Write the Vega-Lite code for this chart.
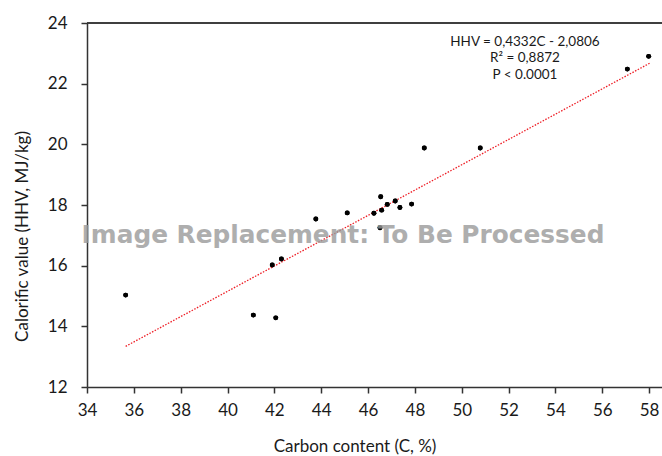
{
  "$schema": "https://vega.github.io/schema/vega-lite/v6.json",
  "width": 575,
  "height": 364,
  "autosize": {"type": "none"},
  "padding": {"left": 87, "top": 23, "right": 0, "bottom": 69},
  "background": "white",
  "config": {
    "view": {"stroke": null},
    "font": "Lato",
    "axis": {
      "grid": false,
      "domainColor": "#333333",
      "domainWidth": 1.5,
      "tickColor": "#333333",
      "tickWidth": 1.5,
      "tickSize": 6,
      "labelFont": "Lato",
      "labelFontSize": 17,
      "labelColor": "#1a1a1a",
      "titleFont": "Lato",
      "titleFontSize": 17,
      "titleFontWeight": "normal",
      "titleColor": "#1a1a1a"
    }
  },
  "datasets": {
    "points": [
      {"x": 35.65, "y": 15.03},
      {"x": 41.10, "y": 14.37},
      {"x": 42.06, "y": 14.28},
      {"x": 41.91, "y": 16.02},
      {"x": 42.30, "y": 16.22},
      {"x": 43.77, "y": 17.54},
      {"x": 45.11, "y": 17.74},
      {"x": 46.25, "y": 17.73},
      {"x": 46.54, "y": 18.27},
      {"x": 46.58, "y": 17.83},
      {"x": 46.82, "y": 18.02},
      {"x": 47.16, "y": 18.13},
      {"x": 47.36, "y": 17.92},
      {"x": 47.86, "y": 18.03},
      {"x": 46.51, "y": 17.25},
      {"x": 48.40, "y": 19.88},
      {"x": 50.79, "y": 19.88},
      {"x": 57.07, "y": 22.48},
      {"x": 57.98, "y": 22.90}
    ],
    "fit": [
      {"x": 35.65, "y": 13.34},
      {"x": 58.04, "y": 22.68}
    ],
    "notes": [
      {"x": 52.70, "y": 23.36, "label": "HHV = 0,4332C - 2,0806"},
      {"x": 52.70, "y": 22.83, "label": "R² = 0,8872"},
      {"x": 52.70, "y": 22.30, "label": "P < 0.0001"}
    ],
    "stamp": [
      {"x": 44.93, "y": 16.98, "label": "Image Replacement: To Be Processed"}
    ]
  },
  "layer": [
    {
      "data": {"name": "points"},
      "mark": {"type": "circle", "size": 24, "color": "#000000", "opacity": 1},
      "encoding": {
        "x": {
          "field": "x",
          "type": "quantitative",
          "scale": {"domain": [34, 58.55], "nice": false, "zero": false},
          "axis": {
            "values": [34, 36, 38, 40, 42, 44, 46, 48, 50, 52, 54, 56, 58],
            "title": "Carbon content (C, %)",
            "labelPadding": 9,
            "labelFlush": false,
            "titleX": 267.5,
            "titleY": 59,
            "titleBaseline": "middle",
            "titleAnchor": null
          }
        },
        "y": {
          "field": "y",
          "type": "quantitative",
          "scale": {"domain": [12, 24], "nice": false, "zero": false},
          "axis": {
            "values": [12, 14, 16, 18, 20, 22, 24],
            "title": "Calorific value (HHV, MJ/kg)",
            "labelPadding": 14,
            "labelFlush": false,
            "titleX": -65,
            "titleY": 213,
            "titleBaseline": "middle",
            "titleAlign": "center",
            "titleAnchor": null
          }
        }
      }
    },
    {
      "data": {"name": "fit"},
      "mark": {"type": "line", "color": "#ee1c24", "strokeWidth": 1.3, "strokeDash": [1.5, 1.5]},
      "encoding": {
        "x": {"field": "x", "type": "quantitative"},
        "y": {"field": "y", "type": "quantitative"}
      }
    },
    {
      "data": {"name": "points"},
      "mark": {"type": "circle", "size": 24, "color": "#000000", "opacity": 1},
      "encoding": {
        "x": {"field": "x", "type": "quantitative"},
        "y": {"field": "y", "type": "quantitative"}
      }
    },
    {
      "data": {"name": "fit"},
      "mark": {"type": "rule", "color": "#333333", "strokeWidth": 1.5},
      "encoding": {
        "y": {"datum": 24, "type": "quantitative"}
      }
    },
    {
      "data": {"name": "notes"},
      "mark": {"type": "text", "font": "Lato", "fontSize": 13.5, "color": "#1a1a1a", "align": "center", "baseline": "middle"},
      "encoding": {
        "x": {"field": "x", "type": "quantitative"},
        "y": {"field": "y", "type": "quantitative"},
        "text": {"field": "label"}
      }
    },
    {
      "data": {"name": "stamp"},
      "mark": {"type": "text", "font": "DejaVu Sans", "fontWeight": "bold", "fontSize": 24.8, "color": "#9a9a9a", "opacity": 0.8, "align": "center", "baseline": "middle"},
      "encoding": {
        "x": {"field": "x", "type": "quantitative"},
        "y": {"field": "y", "type": "quantitative"},
        "text": {"field": "label"}
      }
    }
  ]
}
